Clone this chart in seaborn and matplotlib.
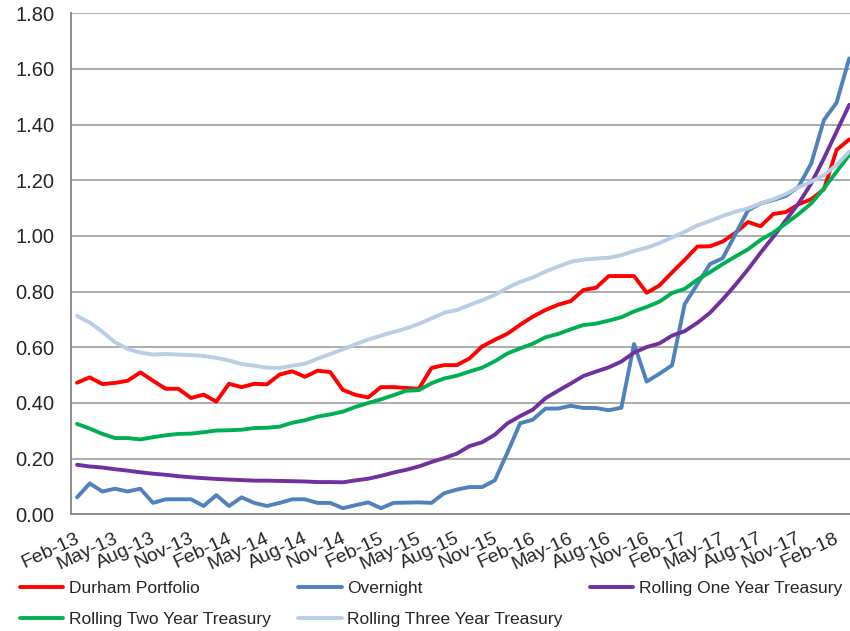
import matplotlib
import matplotlib.pyplot as plt
from matplotlib.lines import Line2D
from matplotlib.ticker import FixedLocator, FormatStrFormatter
from matplotlib.transforms import ScaledTranslation
import seaborn as sns
import numpy as np
import pandas as pd

# monthly categories, Feb-13 .. Mar-18
months = pd.date_range("2013-02-01", periods=62, freq="MS")
month_labels = months.strftime("%b-%y").tolist()

durham = [0.473, 0.492, 0.468, 0.472, 0.480, 0.510, 0.480, 0.451, 0.451, 0.418,
          0.430, 0.405, 0.469, 0.457, 0.469, 0.467, 0.502, 0.514, 0.494, 0.516,
          0.511, 0.447, 0.429, 0.420, 0.457, 0.457, 0.454, 0.451, 0.526, 0.536,
          0.536, 0.560, 0.603, 0.627, 0.649, 0.681, 0.710, 0.734, 0.753, 0.766,
          0.806, 0.814, 0.856, 0.856, 0.856, 0.796, 0.822, 0.869, 0.914, 0.962,
          0.963, 0.980, 1.011, 1.050, 1.035, 1.079, 1.086, 1.114, 1.132, 1.168,
          1.309, 1.347]
overnight = [0.061, 0.111, 0.082, 0.092, 0.082, 0.092, 0.041, 0.054, 0.054, 0.054,
             0.030, 0.069, 0.030, 0.061, 0.041, 0.030, 0.041, 0.054, 0.054, 0.041,
             0.041, 0.022, 0.033, 0.043, 0.022, 0.041, 0.042, 0.043, 0.041, 0.076,
             0.089, 0.098, 0.098, 0.122, 0.222, 0.327, 0.340, 0.380, 0.380, 0.390,
             0.382, 0.382, 0.374, 0.383, 0.612, 0.477, 0.505, 0.535, 0.755, 0.827,
             0.899, 0.920, 1.006, 1.092, 1.117, 1.129, 1.144, 1.177, 1.261, 1.417,
             1.479, 1.638]
one_year = [0.178, 0.172, 0.168, 0.162, 0.157, 0.151, 0.146, 0.142, 0.137, 0.133,
            0.130, 0.127, 0.125, 0.123, 0.121, 0.121, 0.120, 0.119, 0.118, 0.116,
            0.116, 0.115, 0.122, 0.128, 0.138, 0.150, 0.160, 0.172, 0.188, 0.202,
            0.218, 0.245, 0.259, 0.286, 0.327, 0.353, 0.376, 0.417, 0.444, 0.470,
            0.497, 0.513, 0.528, 0.549, 0.581, 0.601, 0.614, 0.642, 0.658, 0.688,
            0.724, 0.772, 0.824, 0.880, 0.940, 0.997, 1.057, 1.117, 1.189, 1.279,
            1.375, 1.471]
two_year = [0.325, 0.308, 0.289, 0.274, 0.274, 0.269, 0.277, 0.284, 0.289, 0.290,
            0.295, 0.301, 0.302, 0.304, 0.310, 0.311, 0.315, 0.329, 0.338, 0.351,
            0.359, 0.369, 0.386, 0.400, 0.413, 0.428, 0.444, 0.446, 0.471, 0.488,
            0.498, 0.513, 0.527, 0.550, 0.578, 0.596, 0.613, 0.636, 0.648, 0.665,
            0.680, 0.685, 0.696, 0.708, 0.729, 0.745, 0.764, 0.795, 0.810, 0.843,
            0.870, 0.899, 0.926, 0.952, 0.986, 1.012, 1.045, 1.079, 1.117, 1.171,
            1.231, 1.291]
three_year = [0.713, 0.689, 0.656, 0.618, 0.594, 0.581, 0.574, 0.576, 0.574, 0.572,
              0.569, 0.562, 0.553, 0.540, 0.534, 0.527, 0.526, 0.534, 0.541, 0.559,
              0.576, 0.593, 0.611, 0.628, 0.642, 0.655, 0.668, 0.684, 0.704, 0.724,
              0.734, 0.752, 0.769, 0.788, 0.814, 0.835, 0.851, 0.872, 0.890, 0.907,
              0.915, 0.919, 0.922, 0.931, 0.946, 0.958, 0.974, 0.995, 1.015, 1.038,
              1.054, 1.072, 1.087, 1.099, 1.117, 1.132, 1.151, 1.175, 1.195, 1.219,
              1.255, 1.303]

series_names = ["Durham Portfolio", "Overnight", "Rolling One Year Treasury",
                "Rolling Two Year Treasury", "Rolling Three Year Treasury"]
series_colors = ["#FF0000", "#4F81BD", "#7030A0", "#00B050", "#B9CDE5"]

sns.set_style("white")
plt.rcParams["font.family"] = ["Liberation Sans", "DejaVu Sans"]

df = pd.DataFrame(dict(zip(series_names,
                           [durham, overnight, one_year, two_year, three_year])))
df["pos"] = np.arange(len(months))
long_df = df.melt(id_vars="pos", var_name="series", value_name="yield")

fig = plt.figure(figsize=(8.5, 6.31), dpi=100)
ax = fig.add_axes([0.0832, 0.1849, 0.9168, 0.7940])

sns.lineplot(data=long_df, x="pos", y="yield", hue="series",
             hue_order=series_names, palette=series_colors,
             linewidth=2.8, legend=False, ax=ax)

ax.set_xlim(-0.5, 61.06)
ax.set_ylim(0, 1.8)
ax.set_xlabel("")
ax.set_ylabel("")

# y axis
ax.set_yticks(np.arange(0, 1.81, 0.2))
ax.yaxis.set_major_formatter(FormatStrFormatter("%.2f"))
ax.yaxis.grid(True, color="#A6A6A6", linewidth=1.3)
ax.set_axisbelow(True)
ax.tick_params(axis="y", length=4.5, width=1.1, color="#868686",
               pad=7, labelsize=14.5)

# x axis: labels every 3 months, tick marks between category groups
label_pos = np.arange(0, len(months), 3)
ax.set_xticks(label_pos)
ax.set_xticklabels([month_labels[i] for i in label_pos], rotation=25, ha="right")
ax.tick_params(axis="x", which="major", length=0, pad=11, labelsize=14)
ax.xaxis.set_minor_locator(FixedLocator(np.arange(-0.5, len(months), 3)))
ax.tick_params(axis="x", which="minor", length=4, width=1.1, color="#868686")

# nudge rotated labels a little to the right, as in the original
shift = ScaledTranslation(0.05, 0, fig.dpi_scale_trans)
for lbl in ax.get_xticklabels():
    lbl.set_transform(lbl.get_transform() + shift)

for side in ["top", "right"]:
    ax.spines[side].set_visible(False)
for side in ["left", "bottom"]:
    ax.spines[side].set_color("#868686")
    ax.spines[side].set_linewidth(1.3)

# legend, filled row by row like the original
handles = {n: Line2D([], [], color=c, linewidth=2.8)
           for n, c in zip(series_names, series_colors)}
order = ["Durham Portfolio", "Rolling Two Year Treasury", "Overnight",
         "Rolling Three Year Treasury", "Rolling One Year Treasury"]
fig.legend([handles[n] for n in order], order, loc="upper left",
           bbox_to_anchor=(20 / 850, 1 - 581 / 631), ncol=3, frameon=False,
           fontsize=12.5, handlelength=2.5, handletextpad=0.3,
           columnspacing=1.6, labelspacing=0.88, borderpad=0, borderaxespad=0)

fig.savefig("out.png", dpi=100)
